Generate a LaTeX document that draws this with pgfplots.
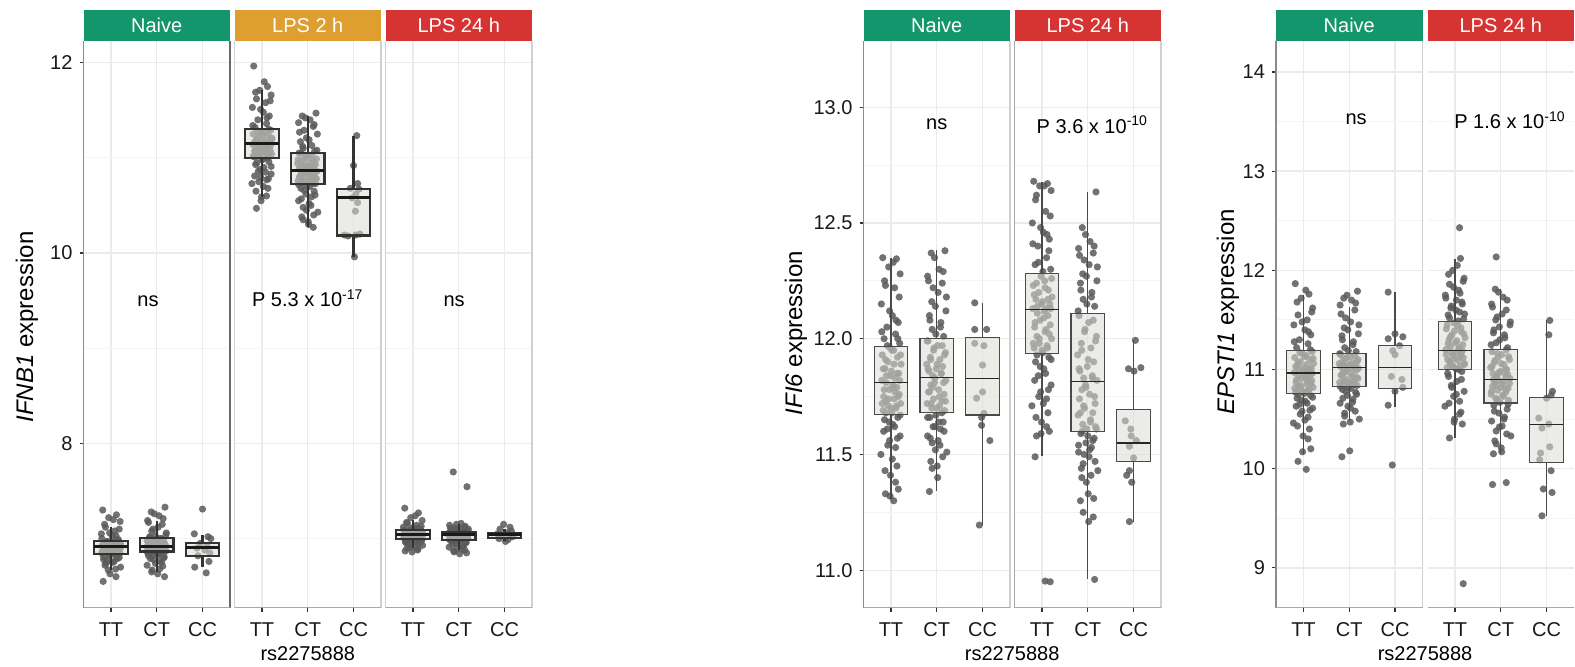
\documentclass[border=0pt]{standalone}
\usepackage{fontspec}
\setmainfont{Liberation Sans}
\usepackage{pgfplots}
\usepackage{pgfplotstable}
\pgfplotsset{compat=1.18}
\usepgfplotslibrary{statistics}

\definecolor{stripNaive}{HTML}{13966B}
\definecolor{stripTwo}{HTML}{DE9E30}
\definecolor{stripDay}{HTML}{D63333}
\definecolor{gridMaj}{HTML}{EBEBEB}
\definecolor{gridMin}{HTML}{F4F4F4}
\definecolor{dotGray}{HTML}{5A5A5A}
\definecolor{boxFill}{HTML}{DCDCD6}
\definecolor{boxLine}{HTML}{4A4A4A}
\definecolor{edgeLight}{HTML}{D0D0D0}
\definecolor{edgeMid}{HTML}{A8A8A8}
\definecolor{edgeAxis}{HTML}{8C8C8C}
\definecolor{edgeDark}{HTML}{6A6A6A}
\definecolor{tickInk}{HTML}{333333}

\newcommand{\txt}{\fontsize{10bp}{12bp}\selectfont}
\newcommand{\ylab}{\fontsize{12bp}{14bp}\selectfont}

% Each panel: main table (d = jitter, tt/ct = values), extra table
% (e = jitter, t2/c2 = more values) and a CC table (d, v).

% ---------- IFNB1 ----------
\pgfplotstableread{
d tt ct
-0.18 7.30 7.33
0.12 7.25 7.28
-0.05 7.22 7.24
0.20 7.18 7.19
-0.12 7.12 7.15
0.08 7.08 7.10
-0.21 7.05 7.06
0.03 7.02 7.03
0.16 6.99 7.01
-0.09 6.97 7.00
0.10 6.96 6.99
-0.15 6.95 6.98
0.19 6.94 6.96
-0.02 6.94 6.95
0.06 6.93 6.94
-0.19 6.93 6.93
0.14 6.92 6.92
-0.07 6.92 6.92
0.22 6.91 6.91
-0.13 6.90 6.90
0.01 6.89 6.89
0.17 6.88 6.89
-0.10 6.87 6.88
0.09 6.86 6.87
-0.20 6.85 6.87
0.05 6.85 6.86
0.13 6.84 6.86
-0.04 6.82 6.84
0.18 6.80 6.82
-0.16 6.78 6.80
0.07 6.76 6.78
-0.11 6.74 6.75
0.21 6.70 6.72
-0.06 6.67 6.68
0.11 6.60 6.65
-0.17 6.55 6.60
}\tLa
\pgfplotstableread{
e t2 c2
0.05 7.20 7.26
-0.14 7.15 7.21
0.18 7.10 7.17
-0.03 7.06 7.12
0.11 7.03 7.08
-0.20 7.00 7.04
0.15 6.98 7.02
-0.08 6.97 7.00
0.02 6.96 6.99
0.21 6.95 6.98
-0.12 6.95 6.97
0.07 6.94 6.96
-0.17 6.93 6.95
0.13 6.93 6.94
-0.01 6.92 6.93
0.19 6.92 6.93
-0.10 6.91 6.92
0.04 6.91 6.91
-0.15 6.90 6.91
0.09 6.90 6.90
0.16 6.89 6.90
-0.06 6.88 6.89
-0.19 6.87 6.88
0.12 6.87 6.88
0.00 6.86 6.87
-0.11 6.86 6.86
0.20 6.85 6.85
-0.04 6.84 6.84
0.08 6.83 6.83
-0.16 6.81 6.81
0.14 6.79 6.79
-0.07 6.77 6.77
0.03 6.75 6.74
-0.13 6.72 6.71
0.10 6.68 6.67
-0.02 6.63 6.63
}\tLaX
\pgfplotstableread{
d v
0.00 7.31
-0.18 7.05
0.12 7.02
0.18 7.00
-0.05 6.95
0.10 6.92
-0.12 6.90
0.05 6.88
0.16 6.85
-0.10 6.82
0.14 6.76
-0.17 6.70
0.08 6.64
}\tLaC
\pgfplotstableread{
d tt ct
-0.18 11.965 11.47
0.12 11.75 11.44
-0.05 11.71 11.40
0.20 11.66 11.37
-0.12 11.62 11.33
0.08 11.58 11.29
-0.21 11.53 11.25
0.03 11.48 11.21
0.16 11.44 11.17
-0.09 11.40 11.13
0.10 11.36 11.10
-0.15 11.32 11.07
0.19 11.29 11.05
-0.02 11.28 11.03
0.06 11.26 11.01
-0.19 11.25 10.99
0.14 11.23 10.97
-0.07 11.22 10.95
0.22 11.20 10.94
-0.13 11.19 10.92
0.01 11.18 10.91
0.17 11.17 10.90
-0.10 11.16 10.89
0.09 11.15 10.88
-0.20 11.14 10.86
0.05 11.12 10.85
0.13 11.11 10.83
-0.04 11.09 10.82
0.18 11.08 10.80
-0.16 11.07 10.79
0.07 11.06 10.78
-0.11 11.05 10.77
0.21 11.04 10.76
-0.06 11.03 10.75
0.11 11.02 10.74
-0.17 11.01 10.73
0.02 10.99 10.71
0.15 10.96 10.68
-0.14 10.93 10.65
0.04 10.90 10.62
-0.08 10.86 10.59
0.20 10.83 10.55
-0.03 10.80 10.52
0.10 10.77 10.48
-0.22 10.73 10.43
0.13 10.68 10.38
-0.01 10.59 10.33
-0.12 10.47 10.27
}\tLb
\pgfplotstableread{
e t2 c2
0.05 11.80 11.42
-0.14 11.69 11.35
0.18 11.60 11.27
-0.03 11.51 11.19
0.11 11.42 11.12
-0.20 11.34 11.08
0.15 11.30 11.05
-0.08 11.27 11.02
0.02 11.24 11.00
0.21 11.21 10.98
-0.12 11.19 10.96
0.07 11.17 10.94
-0.17 11.16 10.93
0.13 11.15 10.91
-0.01 11.14 10.90
0.19 11.13 10.88
-0.10 11.11 10.87
0.04 11.10 10.86
-0.15 11.08 10.84
0.09 11.06 10.83
0.16 11.05 10.81
-0.06 11.04 10.80
-0.19 11.02 10.78
0.12 11.00 10.76
0.00 10.98 10.75
-0.11 10.95 10.73
0.20 10.91 10.72
-0.04 10.88 10.70
0.08 10.85 10.66
-0.16 10.81 10.61
0.14 10.78 10.57
-0.07 10.75 10.50
0.03 10.70 10.45
-0.13 10.65 10.40
0.10 10.60 10.35
-0.02 10.55 10.30
}\tLbX
\pgfplotstableread{
d v
0.07 11.234
0.00 10.92
0.09 10.73
-0.07 10.68
0.12 10.67
0.05 10.62
-0.03 10.58
0.09 10.53
0.04 10.44
-0.20 10.19
-0.12 10.18
0.05 10.19
0.14 10.20
0.02 9.96
}\tLbC
\pgfplotstableread{
d tt ct
-0.18 7.32 7.545
0.12 7.27 7.70
-0.05 7.22 7.16
0.20 7.19 7.14
-0.12 7.16 7.12
0.08 7.14 7.11
-0.21 7.12 7.10
0.03 7.11 7.09
0.16 7.10 7.08
-0.09 7.09 7.075
0.10 7.08 7.07
-0.15 7.07 7.065
0.19 7.07 7.06
-0.02 7.06 7.06
0.06 7.06 7.055
-0.19 7.05 7.05
0.14 7.05 7.05
-0.07 7.04 7.045
0.22 7.04 7.04
-0.13 7.03 7.035
0.01 7.03 7.03
0.17 7.02 7.03
-0.10 7.02 7.02
0.09 7.01 7.02
-0.20 7.01 7.01
0.05 7.00 7.00
0.13 7.00 7.00
-0.04 6.99 6.995
0.18 6.98 6.98
-0.16 6.97 6.96
0.07 6.96 6.95
-0.11 6.95 6.93
0.21 6.93 6.91
-0.06 6.91 6.89
0.11 6.89 6.87
-0.17 6.87 6.85
}\tLc
\pgfplotstableread{
e t2 c2
0.05 7.24 7.15
-0.14 7.17 7.13
0.18 7.13 7.11
-0.03 7.11 7.10
0.11 7.10 7.09
-0.20 7.09 7.08
0.15 7.08 7.07
-0.08 7.07 7.07
0.02 7.06 7.06
0.21 7.06 7.06
-0.12 7.05 7.05
0.07 7.05 7.05
-0.17 7.05 7.05
0.13 7.04 7.04
-0.01 7.04 7.04
0.19 7.04 7.04
-0.10 7.03 7.03
0.04 7.03 7.03
-0.15 7.03 7.03
0.09 7.02 7.02
0.16 7.02 7.02
-0.06 7.01 7.01
-0.19 7.01 7.01
0.12 7.00 7.00
0.00 7.00 7.00
-0.11 6.99 6.99
0.20 6.99 6.99
-0.04 6.98 6.98
0.08 6.97 6.97
-0.16 6.96 6.96
0.14 6.95 6.94
-0.07 6.94 6.92
0.03 6.92 6.90
-0.13 6.90 6.88
0.10 6.88 6.86
-0.02 6.86 6.84
}\tLcX
\pgfplotstableread{
d v
-0.02 7.15
0.12 7.12
-0.10 7.10
0.15 7.08
0.05 7.06
-0.15 7.05
0.10 7.04
-0.05 7.03
0.18 7.02
-0.12 7.00
0.08 6.99
0.02 6.97
}\tLcC

% ---------- IFI6 ----------
\pgfplotstableread{
d tt ct
-0.18 12.35 12.38
0.12 12.345 12.37
-0.05 12.31 12.30
0.20 12.28 12.27
-0.12 12.23 12.24
0.08 12.22 12.22
-0.21 12.15 12.18
0.03 12.10 12.14
0.16 12.07 12.10
-0.09 12.05 12.07
0.10 12.02 12.04
-0.15 12.00 12.01
0.19 11.98 11.99
-0.02 11.96 11.97
0.06 11.95 11.96
-0.19 11.93 11.94
0.14 11.92 11.92
-0.07 11.90 11.91
0.22 11.89 11.89
-0.13 11.87 11.88
0.01 11.86 11.87
0.17 11.85 11.86
-0.10 11.84 11.85
0.09 11.83 11.84
-0.20 11.82 11.82
0.05 11.80 11.81
0.13 11.79 11.80
-0.04 11.78 11.78
0.18 11.76 11.77
-0.16 11.75 11.76
0.07 11.74 11.74
-0.11 11.73 11.73
0.21 11.72 11.72
-0.06 11.71 11.71
0.11 11.70 11.70
-0.17 11.69 11.69
0.02 11.68 11.67
0.15 11.66 11.66
-0.14 11.65 11.64
0.04 11.63 11.62
-0.08 11.61 11.61
0.20 11.58 11.58
-0.03 11.56 11.56
0.10 11.53 11.55
-0.22 11.50 11.51
0.13 11.45 11.47
-0.01 11.41 11.45
0.16 11.35 11.34
-0.12 11.33 nan
0.06 11.30 nan
}\tMa
\pgfplotstableread{
e t2 c2
0.05 12.33 12.35
-0.14 12.25 12.29
0.18 12.18 12.25
-0.03 12.12 12.20
0.11 12.08 12.16
-0.20 12.03 12.12
0.15 12.00 12.08
-0.08 11.97 12.05
0.02 11.95 12.02
0.21 11.93 11.99
-0.12 11.91 11.97
0.07 11.89 11.95
-0.17 11.87 11.93
0.13 11.85 11.91
-0.01 11.84 11.89
0.19 11.82 11.87
-0.10 11.81 11.85
0.04 11.79 11.83
-0.15 11.78 11.81
0.09 11.77 11.79
0.16 11.75 11.77
-0.06 11.74 11.75
-0.19 11.72 11.73
0.12 11.71 11.72
0.00 11.70 11.70
-0.11 11.68 11.68
0.20 11.67 11.66
-0.04 11.64 11.64
0.08 11.62 11.62
-0.16 11.60 11.60
0.14 11.57 11.57
-0.07 11.54 11.54
0.03 11.48 11.52
-0.13 11.43 11.49
0.10 11.38 11.44
-0.02 11.32 11.40
}\tMaX
\pgfplotstableread{
d v
-0.17 12.155
-0.17 12.04
0.09 12.04
-0.17 11.98
0.03 11.97
0.00 11.886
0.00 11.77
-0.13 11.743
0.03 11.677
-0.02 11.66
-0.02 11.626
0.16 11.56
-0.07 11.195
}\tMaC
\pgfplotstableread{
d tt ct
-0.18 12.68 12.634
0.12 12.67 12.48
-0.05 12.66 12.42
0.20 12.64 12.39
-0.12 12.62 12.37
0.08 12.55 12.34
-0.21 12.50 12.31
0.03 12.46 12.27
0.16 12.43 12.24
-0.09 12.40 12.20
0.10 12.35 12.17
-0.15 12.32 12.14
0.19 12.30 12.10
-0.02 12.27 12.07
0.06 12.25 12.04
-0.19 12.23 12.01
0.14 12.21 11.98
-0.07 12.20 11.96
0.22 12.18 11.93
-0.13 12.17 11.90
0.01 12.16 11.88
0.17 12.15 11.86
-0.10 12.14 11.84
0.09 12.13 11.83
-0.20 12.13 11.82
0.05 12.12 11.80
0.13 12.10 11.78
-0.04 12.08 11.76
0.18 12.06 11.74
-0.16 12.05 11.72
0.07 12.03 11.70
-0.11 12.01 11.68
0.21 12.00 11.67
-0.06 11.98 11.65
0.11 11.97 11.63
-0.17 11.96 11.62
0.02 11.94 11.61
0.15 11.92 11.59
-0.14 11.90 11.57
0.04 11.87 11.55
-0.08 11.84 11.53
0.20 11.80 11.51
-0.03 11.77 11.49
0.10 11.74 11.46
-0.22 11.71 11.43
0.13 11.68 11.40
-0.01 11.64 11.33
0.16 11.60 11.30
-0.12 11.58 11.23
-0.15 11.49 10.96
0.07 10.953 nan
0.18 10.95 nan
}\tMb
\pgfplotstableread{
e t2 c2
0.05 12.66 12.45
-0.14 12.60 12.40
0.18 12.53 12.36
-0.03 12.48 12.32
0.11 12.45 12.28
-0.20 12.41 12.25
0.15 12.38 12.21
-0.08 12.33 12.18
0.02 12.29 12.15
0.21 12.26 12.12
-0.12 12.24 12.08
0.07 12.22 12.03
-0.17 12.19 11.99
0.13 12.17 11.95
-0.01 12.15 11.91
0.19 12.13 11.87
-0.10 12.11 11.83
0.04 12.09 11.79
-0.15 12.07 11.75
0.09 12.04 11.71
0.16 12.02 11.68
-0.06 12.00 11.64
-0.19 11.98 11.61
0.12 11.96 11.60
0.00 11.95 11.58
-0.11 11.93 11.56
0.20 11.91 11.54
-0.04 11.88 11.52
0.08 11.85 11.50
-0.16 11.82 11.47
0.14 11.78 11.44
-0.07 11.75 11.41
0.03 11.72 11.38
-0.13 11.66 11.31
0.10 11.62 11.25
-0.02 11.59 11.21
}\tMbX
\pgfplotstableread{
d v
0.04 11.993
-0.11 11.87
0.01 11.86
0.16 11.875
-0.18 11.645
-0.06 11.61
-0.05 11.58
0.06 11.56
-0.09 11.535
0.00 11.485
-0.09 11.43
-0.15 11.41
-0.04 11.38
-0.09 11.21
}\tMbC

% ---------- EPSTI1 ----------
\pgfplotstableread{
d tt ct
-0.18 11.866 11.79
0.12 11.76 11.72
-0.05 11.72 11.70
0.20 11.62 11.65
-0.12 11.55 11.60
0.08 11.50 11.52
-0.21 11.45 11.45
0.03 11.40 11.40
0.16 11.35 11.34
-0.09 11.30 11.28
0.10 11.26 11.22
-0.15 11.22 11.18
0.19 11.18 11.15
-0.02 11.16 11.13
0.06 11.14 11.12
-0.19 11.12 11.10
0.14 11.10 11.09
-0.07 11.08 11.07
0.22 11.06 11.06
-0.13 11.04 11.05
0.01 11.02 11.04
0.17 11.01 11.04
-0.10 11.00 11.03
0.09 10.98 11.03
-0.20 10.97 11.01
0.05 10.95 11.00
0.13 10.93 10.98
-0.04 10.91 10.96
0.18 10.89 10.94
-0.16 10.87 10.92
0.07 10.85 10.90
-0.11 10.83 10.89
0.21 10.82 10.87
-0.06 10.80 10.86
0.11 10.79 10.85
-0.17 10.77 10.84
0.02 10.76 10.82
0.15 10.74 10.80
-0.14 10.71 10.77
0.04 10.68 10.74
-0.08 10.65 10.70
0.20 10.61 10.66
-0.03 10.58 10.61
0.10 10.52 10.56
-0.22 10.46 10.50
0.13 10.40 10.45
-0.01 10.33 10.18
0.16 10.20 10.12
-0.12 10.074 nan
0.06 9.993 nan
}\tRa
\pgfplotstableread{
e t2 c2
0.05 11.80 11.75
-0.14 11.68 11.67
0.18 11.58 11.56
-0.03 11.48 11.48
0.11 11.38 11.42
-0.20 11.28 11.36
0.15 11.20 11.30
-0.08 11.17 11.25
0.02 11.13 11.19
0.21 11.11 11.16
-0.12 11.07 11.14
0.07 11.05 11.11
-0.17 11.03 11.08
0.13 11.00 11.06
-0.01 10.99 11.05
0.19 10.96 11.03
-0.10 10.94 11.02
0.04 10.92 11.00
-0.15 10.90 10.99
0.09 10.88 10.97
0.16 10.86 10.95
-0.06 10.84 10.93
-0.19 10.81 10.91
0.12 10.80 10.89
0.00 10.78 10.87
-0.11 10.75 10.85
0.20 10.72 10.83
-0.04 10.69 10.81
0.08 10.66 10.78
-0.16 10.63 10.75
0.14 10.59 10.71
-0.07 10.55 10.67
0.03 10.49 10.63
-0.13 10.43 10.58
0.10 10.30 10.53
-0.02 10.17 10.47
}\tRaX
\pgfplotstableread{
d v
-0.15 11.78
-0.15 11.31
0.00 11.36
0.17 11.33
0.10 11.24
-0.05 11.19
0.00 11.15
-0.08 10.93
0.15 10.90
0.17 10.82
0.00 10.78
-0.15 10.64
-0.06 10.037
}\tRaC
\pgfplotstableread{
d tt ct
0.10 12.43 12.135
0.12 12.12 11.81
-0.05 12.00 11.73
0.20 11.92 11.66
-0.12 11.86 11.60
0.08 11.80 11.53
-0.21 11.75 11.48
0.03 11.70 11.43
0.16 11.66 11.37
-0.09 11.62 11.32
0.10 11.58 11.27
-0.15 11.55 11.22
0.19 11.51 11.18
-0.02 11.47 11.15
0.06 11.44 11.12
-0.19 11.41 11.10
0.14 11.38 11.07
-0.07 11.35 11.05
0.22 11.32 11.02
-0.13 11.30 11.00
0.01 11.27 10.98
0.17 11.25 10.96
-0.10 11.23 10.94
0.09 11.21 10.92
-0.20 11.20 10.91
0.05 11.18 10.89
0.13 11.16 10.87
-0.04 11.14 10.85
0.18 11.12 10.83
-0.16 11.10 10.81
0.07 11.09 10.79
-0.11 11.07 10.77
0.21 11.06 10.75
-0.06 11.04 10.73
0.11 11.03 10.71
-0.17 11.02 10.69
0.02 11.01 10.67
0.15 10.98 10.64
-0.14 10.93 10.60
0.04 10.88 10.56
-0.08 10.84 10.52
0.20 10.78 10.48
-0.03 10.73 10.43
0.10 10.68 10.38
-0.22 10.63 10.33
0.13 10.57 10.28
-0.01 10.50 10.21
0.16 10.45 10.15
-0.12 10.31 9.86
0.18 8.84 9.84
}\tRb
\pgfplotstableread{
e t2 c2
0.05 12.05 11.78
-0.14 11.96 11.70
0.18 11.89 11.63
-0.03 11.83 11.56
0.11 11.77 11.50
-0.20 11.72 11.45
0.15 11.68 11.40
-0.08 11.64 11.35
0.02 11.60 11.30
0.21 11.56 11.25
-0.12 11.52 11.20
0.07 11.49 11.16
-0.17 11.45 11.13
0.13 11.42 11.09
-0.01 11.39 11.06
0.19 11.36 11.03
-0.10 11.33 11.00
0.04 11.29 10.97
-0.15 11.26 10.95
0.09 11.22 10.93
0.16 11.19 10.90
-0.06 11.17 10.88
-0.19 11.15 10.86
0.12 11.13 10.84
0.00 11.11 10.82
-0.11 11.08 10.80
0.20 11.05 10.78
-0.04 11.03 10.74
0.08 11.00 10.70
-0.16 10.96 10.65
0.14 10.90 10.58
-0.07 10.82 10.50
0.03 10.75 10.42
-0.13 10.66 10.35
0.10 10.55 10.25
-0.02 10.47 10.17
}\tRbX
\pgfplotstableread{
d v
0.07 11.495
0.05 11.35
0.13 10.78
0.10 10.74
0.00 10.71
-0.17 10.51
0.05 10.45
-0.10 10.41
0.07 10.22
-0.13 10.158
-0.15 10.09
0.10 9.98
-0.07 9.795
0.12 9.76
-0.10 9.525
}\tRbC

\pgfplotsset{
  facet/.style={
    scale only axis, width=73.25bp, height=283.35bp,
    anchor=south west, clip=false, clip marker paths=true,
    xmin=0.4, xmax=3.6, xtick={1,2,3}, xticklabels={TT,CT,CC},
    axis line style={draw=none},
    xtick pos=left, ytick pos=left,
    tick align=outside, major tick length=2bp, minor tick length=0bp,
    tick style={draw=tickInk, line width=0.6bp},
    grid=both,
    major grid style={draw=gridMaj, line width=0.7bp},
    minor grid style={draw=gridMin, line width=0.5bp},
    /pgf/number format/assume math mode=true,
    tick label style={font=\txt, text=black!90},
    xticklabel style={yshift=-2bp},
  },
  inner/.style={yticklabels={}, ytick style={draw=none}},
  yL/.style={ymin=6.274, ymax=12.228, ytick={8,10,12}, minor ytick={7,9,11}},
  yM/.style={ymin=10.838, ymax=13.286, ytick={11,11.5,12,12.5,13},
    minor ytick={11.25,11.75,12.25,12.75},
    yticklabel style={/pgf/number format/.cd, fixed, fixed zerofill, precision=1}},
  yR/.style={ymin=8.598, ymax=14.313, ytick={9,10,11,12,13,14},
    minor ytick={9.5,10.5,11.5,12.5,13.5}},
  pts/.style={only marks, color=dotGray, mark=*, mark size=1.8bp,
    mark options={draw opacity=0, fill=dotGray, fill opacity=0.85}},
  boxthin/.style={draw=boxLine, fill=boxFill, fill opacity=0.55, line width=0.6bp,
    boxplot/every median/.style={draw=black!85, line width=0.7bp}},
  boxthick/.style={boxthin, draw=black!80, line width=1.05bp,
    boxplot/every median/.style={draw=black!90, line width=1.6bp}},
}

% #1 style, #2 position, #3 lower whisker, #4 Q1, #5 median, #6 Q3, #7 upper whisker
\newcommand{\gbox}[7]{\addplot[#1, boxplot prepared={draw direction=y,
  draw position=#2, box extend=0.73, whisker extend=0,
  lower whisker=#3, lower quartile=#4, median=#5, upper quartile=#6,
  upper whisker=#7}] coordinates {};}
% #1 main table, #2 extra table, #3 CC table
\newcommand{\cloud}[3]{%
  \addplot[pts] table[x expr=1+\thisrow{d}, y=tt] {#1};
  \addplot[pts] table[x expr=1+\thisrow{e}, y=t2] {#2};
  \addplot[pts] table[x expr=2-\thisrow{d}, y=ct] {#1};
  \addplot[pts] table[x expr=2-\thisrow{e}, y=c2] {#2};
  \addplot[pts] table[x expr=3+\thisrow{d}, y=v] {#3};}
\newcommand{\edges}[2]{%
  \draw[#1, line width=0.7bp] (rel axis cs:0,0) -- (rel axis cs:0,1);
  \draw[#2, line width=0.7bp] (rel axis cs:1,0) -- (rel axis cs:1,1);
  \draw[draw=edgeMid, line width=0.7bp] (rel axis cs:0,0) -- (rel axis cs:1,0);}
\newcommand{\strip}[2]{%
  \fill[#1] (rel axis cs:0,1) rectangle ([yshift=15.5bp]rel axis cs:1,1);
  \node[font=\txt, text=white] at ([yshift=7.75bp]rel axis cs:0.5,1) {#2};}

\begin{document}
\begin{tikzpicture}
\fill[white] (0,0) rectangle (787.5bp,331.5bp);

% IFNB1 -- naive
\begin{axis}[facet, yL, at={(41.75bp,27.65bp)}]
  \cloud{\tLa}{\tLaX}{\tLaC}
  \gbox{boxthick}{1}{6.67}{6.835}{6.92}{6.975}{7.12}
  \gbox{boxthick}{2}{6.65}{6.864}{6.92}{7.006}{7.19}
  \gbox{boxthick}{3}{6.70}{6.82}{6.91}{6.95}{7.04}
  \edges{draw=edgeAxis}{draw=edgeDark}
  \strip{stripNaive}{Naive}
  \node[font=\txt, anchor=base] at (axis cs:1.81,9.44) {ns};
\end{axis}
% IFNB1 -- LPS 2 h
\begin{axis}[facet, yL, inner, at={(117.25bp,27.65bp)}]
  \cloud{\tLb}{\tLbX}{\tLbC}
  \gbox{boxthick}{1}{10.594}{11.003}{11.147}{11.30}{11.714}
  \gbox{boxthick}{2}{10.27}{10.724}{10.867}{11.056}{11.44}
  \gbox{boxthick}{3}{9.96}{10.185}{10.583}{10.675}{11.234}
  \edges{draw=edgeLight}{draw=edgeLight}
  \strip{stripTwo}{LPS 2 h}
  \node[font=\txt, anchor=base] at (axis cs:2,9.44) {P 5.3 x 10\textsuperscript{-17}};
\end{axis}
% IFNB1 -- LPS 24 h
\begin{axis}[facet, yL, inner, at={(192.75bp,27.65bp)}]
  \cloud{\tLc}{\tLcX}{\tLcC}
  \gbox{boxthick}{1}{6.90}{7.00}{7.04}{7.09}{7.20}
  \gbox{boxthick}{2}{6.88}{6.99}{7.04}{7.07}{7.15}
  \gbox{boxthick}{3}{6.98}{7.01}{7.04}{7.055}{7.10}
  \edges{draw=edgeLight}{draw=edgeLight}
  \strip{stripDay}{LPS 24 h}
  \node[font=\txt, anchor=base] at (axis cs:1.9,9.44) {ns};
\end{axis}

% IFI6 -- naive
\begin{axis}[facet, yM, at={(431.75bp,27.65bp)}]
  \cloud{\tMa}{\tMaX}{\tMaC}
  \gbox{boxthin}{1}{11.307}{11.674}{11.812}{11.967}{12.349}
  \gbox{boxthin}{2}{11.342}{11.68}{11.832}{12.0}{12.382}
  \gbox{boxthin}{3}{11.195}{11.67}{11.828}{12.006}{12.155}
  \edges{draw=edgeAxis}{draw=edgeLight}
  \strip{stripNaive}{Naive}
  \node[font=\txt, anchor=base] at (axis cs:2,12.905) {ns};
\end{axis}
% IFI6 -- LPS 24 h
\begin{axis}[facet, yM, inner, at={(507.25bp,27.65bp)}]
  \cloud{\tMb}{\tMbX}{\tMbC}
  \gbox{boxthin}{1}{11.494}{11.937}{12.125}{12.283}{12.675}
  \gbox{boxthin}{2}{10.962}{11.60}{11.816}{12.109}{12.634}
  \gbox{boxthin}{3}{11.21}{11.468}{11.549}{11.694}{11.993}
  \edges{draw=edgeMid}{draw=edgeLight}
  \strip{stripDay}{LPS 24 h}
  \node[font=\txt, anchor=base] at (axis cs:2.1,12.888) {P 3.6 x 10\textsuperscript{-10}};
\end{axis}

% EPSTI1 -- naive
\begin{axis}[facet, yR, at={(638bp,27.65bp)}]
  \cloud{\tRa}{\tRaX}{\tRaC}
  \gbox{boxthin}{1}{10.148}{10.755}{10.963}{11.189}{11.755}
  \gbox{boxthin}{2}{10.485}{10.83}{11.023}{11.158}{11.63}
  \gbox{boxthin}{3}{10.626}{10.81}{11.023}{11.242}{11.78}
  \edges{draw=edgeAxis}{draw=edgeLight}
  \strip{stripNaive}{Naive}
  \node[font=\txt, anchor=base] at (axis cs:2.15,13.475) {ns};
\end{axis}
% EPSTI1 -- LPS 24 h
\begin{axis}[facet, yR, inner, at={(713.75bp,27.65bp)}]
  \cloud{\tRb}{\tRbX}{\tRbC}
  \gbox{boxthin}{1}{10.31}{11.003}{11.192}{11.488}{12.118}
  \gbox{boxthin}{2}{10.148}{10.663}{10.902}{11.199}{11.81}
  \gbox{boxthin}{3}{9.525}{10.064}{10.447}{10.714}{11.495}
  \edges{draw=none}{draw=none}
  \strip{stripDay}{LPS 24 h}
  \node[font=\txt, anchor=base] at (axis cs:2.2,13.43) {P 1.6 x 10\textsuperscript{-10}};
\end{axis}

% axis titles
\node[rotate=90, font=\ylab] at (13.5bp,168bp) {\textit{IFNB1} expression};
\node[rotate=90, font=\ylab] at (398bp,165bp) {\textit{IFI6} expression};
\node[rotate=90, font=\ylab] at (614bp,175.5bp) {\textit{EPSTI1} expression};
\node[font=\txt, anchor=base] at (153.9bp,1.5bp) {rs2275888};
\node[font=\txt, anchor=base] at (506.1bp,1.5bp) {rs2275888};
\node[font=\txt, anchor=base] at (712.5bp,1.5bp) {rs2275888};
\end{tikzpicture}
\end{document}
